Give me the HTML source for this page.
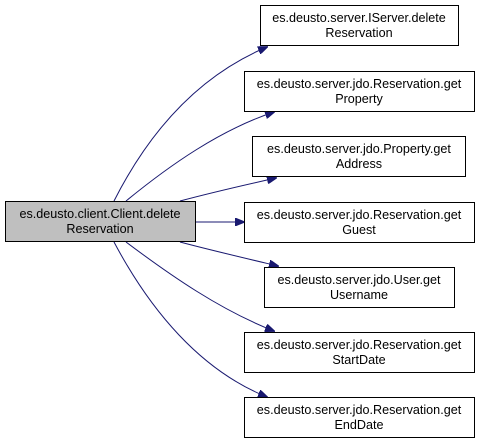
<!DOCTYPE html>
<html><head><style>body{margin:0;background:#fff}svg{display:block}text{font-family:"Liberation Sans",Arial,sans-serif;font-size:12.6px;fill:#000}</style></head><body>
<svg width="480" height="444" viewBox="0 0 480 444">
<defs><marker id="a" markerWidth="10" markerHeight="8" refX="9" refY="4" orient="auto" markerUnits="userSpaceOnUse"><path d="M0,0 L10,4 L0,8 z" fill="#191970" stroke="#191970"/></marker></defs>
<g fill="none" stroke="#191970" stroke-width="1" marker-end="url(#a)">
<path d="M114,201 C150,130 200,75 267,47"/>
<path d="M126,201 C170,165 220,130 274,112"/>
<path d="M180,201 C210,193 240,186 276,178"/>
<path d="M196,222 L244,222"/>
<path d="M180,242 C210,250 240,257 278,266"/>
<path d="M126,242 C170,275 220,310 274,331"/>
<path d="M114,242 C150,310 200,370 267,397"/>
</g>
<g stroke="#000" stroke-width="1">
<rect x="5.5" y="201.5" width="190" height="40" fill="#bfbfbf"/>
<rect x="260.5" y="5.5" width="198" height="40" fill="#fff"/>
<rect x="244.5" y="71.5" width="230" height="40" fill="#fff"/>
<rect x="252.5" y="136.5" width="213" height="40" fill="#fff"/>
<rect x="244.5" y="202.5" width="230" height="40" fill="#fff"/>
<rect x="264.5" y="267.5" width="190" height="40" fill="#fff"/>
<rect x="244.5" y="332.5" width="230" height="40" fill="#fff"/>
<rect x="244.5" y="397.5" width="230" height="40" fill="#fff"/>
</g>
<g text-anchor="middle">
<text x="100" y="218">es.deusto.client.Client.delete</text><text x="100" y="233">Reservation</text>
<text x="359" y="22">es.deusto.server.IServer.delete</text><text x="359" y="37">Reservation</text>
<text x="359" y="88">es.deusto.server.jdo.Reservation.get</text><text x="359" y="103">Property</text>
<text x="359" y="153">es.deusto.server.jdo.Property.get</text><text x="359" y="168">Address</text>
<text x="359" y="219">es.deusto.server.jdo.Reservation.get</text><text x="359" y="234">Guest</text>
<text x="359" y="284">es.deusto.server.jdo.User.get</text><text x="359" y="299">Username</text>
<text x="359" y="349">es.deusto.server.jdo.Reservation.get</text><text x="359" y="364">StartDate</text>
<text x="359" y="414">es.deusto.server.jdo.Reservation.get</text><text x="359" y="429">EndDate</text>
</g>
</svg>
</body></html>
